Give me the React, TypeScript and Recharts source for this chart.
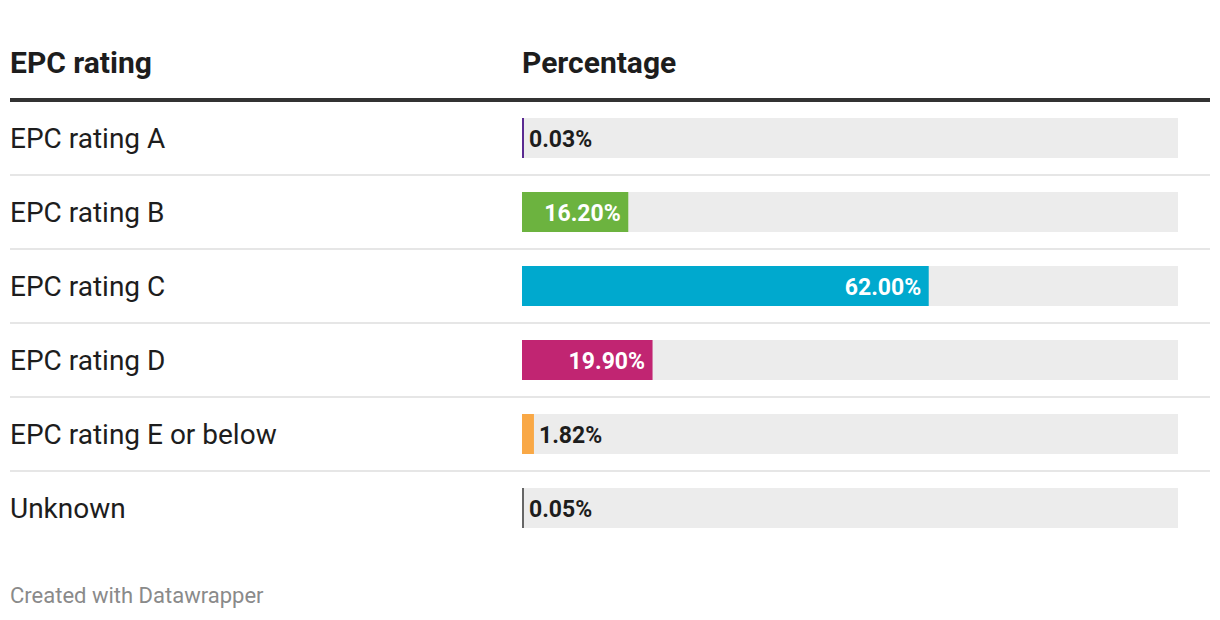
import React from "react";
import { BarChart, Bar, XAxis, YAxis, LabelList } from "recharts";

const categories = ["EPC rating A", "EPC rating B", "EPC rating C", "EPC rating D", "EPC rating E or below", "Unknown"];
const values = [0.03, 16.2, 62.0, 19.9, 1.82, 0.05];
const valueLabels = ["0.03%", "16.20%", "62.00%", "19.90%", "1.82%", "0.05%"];
const colors = ["#5a2a91", "#6cb33f", "#00a9ce", "#c12572", "#f9a846", "#666666"];

const data = categories.map((name, i) => ({ name, value: values[i], label: valueLabels[i], color: colors[i] }));

const FONT = "Roboto, 'Noto Sans', sans-serif";

const BarShape = (props: any) => {
  const { x, y, width, height, payload } = props;
  const w = Math.max(width, 2);
  return <rect x={x} y={y} width={w} height={height} fill={payload.color} />;
};

const RowTick = (props: any) => {
  const { y, payload, index } = props;
  return (
    <g>
      <text x={10} y={y} dy={10} fill="#1d1d1d" fontSize={28} fontFamily={FONT} textAnchor="start">
        {payload.value}
      </text>
      {index < categories.length - 1 && (
        <line x1={10} x2={1210} y1={y + 37} y2={y + 37} stroke="#e6e6e6" strokeWidth={2} />
      )}
    </g>
  );
};

const ValueLabel = (props: any) => {
  const { x, y, width, height, index } = props;
  const label = valueLabels[index];
  const inside = width > 95;
  const cy = y + height / 2;
  if (inside) {
    return (
      <text x={x + width - 7.5} y={cy} dy={8.5} textAnchor="end" fill="#ffffff" fontSize={23} fontWeight={700} fontFamily={FONT}>
        {label}
      </text>
    );
  }
  return (
    <text x={x + Math.max(width, 2) + 5} y={cy} dy={8.5} textAnchor="start" fill="#1d1d1d" fontSize={23} fontWeight={700} fontFamily={FONT}>
      {label}
    </text>
  );
};

export default function App() {
  const head: React.CSSProperties = { position: "absolute", top: 48, fontSize: 30, lineHeight: "30px", fontWeight: 700, color: "#1d1d1d", whiteSpace: "nowrap" };
  return (
    <div style={{ position: "fixed", left: 0, top: 0, width: 1220, height: 620, background: "#fff", fontFamily: FONT }}>
      <div style={{ ...head, left: 10 }}>EPC rating</div>
      <div style={{ ...head, left: 522 }}>Percentage</div>
      <div style={{ position: "absolute", left: 10, top: 98, width: 1200, height: 4, background: "#333333" }} />
      <div style={{ position: "absolute", left: 0, top: 0 }}>
        <BarChart
          width={1220}
          height={620}
          data={data}
          layout="vertical"
          margin={{ top: 101, right: 42, bottom: 75, left: 0 }}
        >
          <XAxis type="number" domain={[0, 100]} hide />
          <YAxis type="category" dataKey="name" width={522} axisLine={false} tickLine={false} tick={<RowTick />} interval={0} />
          <Bar dataKey="value" barSize={40} background={{ fill: "#ececec" }} shape={<BarShape />} isAnimationActive={false}>
            <LabelList dataKey="value" content={<ValueLabel />} />
          </Bar>
        </BarChart>
      </div>
      <div style={{ position: "absolute", left: 10, top: 585, fontSize: 22, lineHeight: "22px", color: "#8a8a8a", whiteSpace: "nowrap" }}>Created with Datawrapper</div>
    </div>
  );
}
